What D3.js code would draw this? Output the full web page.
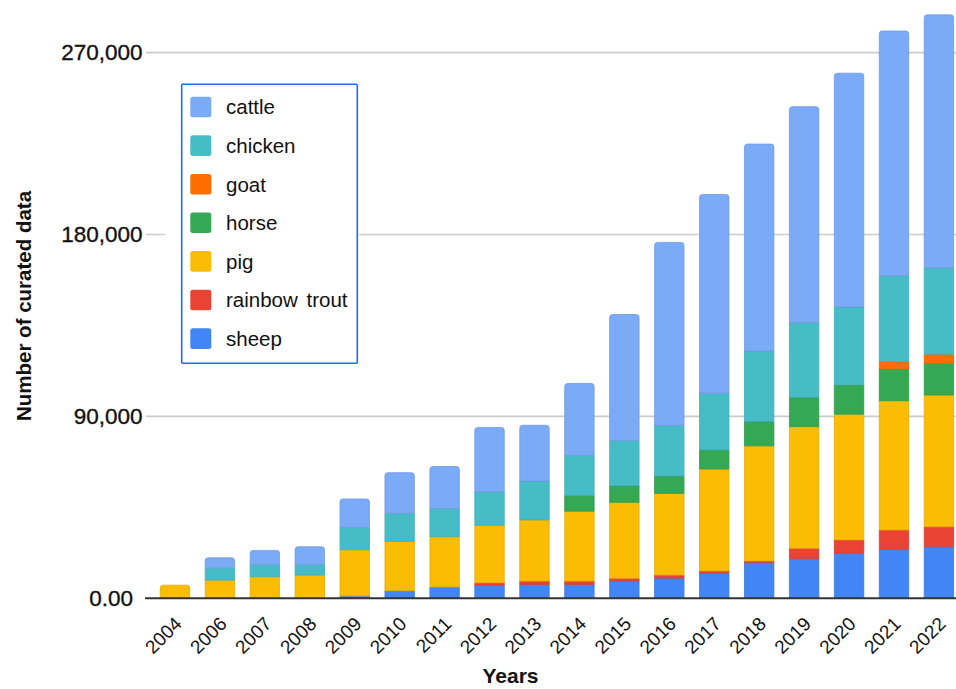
<!DOCTYPE html>
<html>
<head>
<meta charset="utf-8">
<script src="https://cdn.jsdelivr.net/npm/d3@7"></script>
<style>
  html, body { margin: 0; padding: 0; background: #fff; }
  svg { display: block; font-family: "Liberation Sans", Arial, sans-serif; }
</style>
</head>
<body>
<svg id="chart" width="956" height="689"></svg>
<script>
// ---- data ----
const years = ["2004","2006","2007","2008","2009","2010","2011","2012","2013","2014","2015","2016","2017","2018","2019","2020","2021","2022"];
const sheep   = [0, 0, 0, 0, 1150, 3760, 5600, 6500, 6900, 6900, 8600, 10000, 12500, 17800, 19600, 22300, 24300, 25500];
const trout   = [0, 0, 0, 0, 0, 0, 0, 1150, 1600, 1600, 1300, 1500, 1000, 650, 5150, 6600, 9500, 9900];
const pig     = [6500, 9000, 10700, 11500, 22900, 24400, 24900, 28500, 30300, 34600, 37600, 40400, 50500, 57000, 60200, 62200, 64000, 65200];
const horse   = [0, 0, 0, 0, 0, 0, 0, 0, 0, 7800, 8200, 8600, 9400, 12100, 14500, 14500, 15700, 15700];
const goat    = [0, 0, 0, 0, 0, 0, 0, 0, 0, 0, 0, 0, 0, 0, 0, 0, 3600, 4500];
const chicken = [0, 6100, 5900, 5100, 11100, 13900, 13900, 16500, 19200, 19800, 22300, 25100, 28100, 34800, 36900, 38600, 42500, 42700];
const cattle  = [0, 4950, 7100, 8900, 14000, 20100, 20800, 31900, 27600, 35600, 62400, 90500, 98300, 102400, 106900, 115600, 121100, 125200];
const yTicks = [0, 90000, 180000, 270000];
const yTickLabels = ["0.00", "90,000", "180,000", "270,000"];

// stack order bottom -> top
const seriesNames = ["sheep", "rainbow trout", "pig", "horse", "goat", "chicken", "cattle"];
const seriesValues = [sheep, trout, pig, horse, goat, chicken, cattle];
const colors = {
  "cattle": "#7baaf7", "chicken": "#46bdc6", "goat": "#ff6d01", "horse": "#34a853",
  "pig": "#fbbc04", "rainbow trout": "#ea4335", "sheep": "#4285f4"
};
const legendOrder = ["cattle", "chicken", "goat", "horse", "pig", "rainbow trout", "sheep"];

const table = years.map((y, i) => {
  const row = { year: y };
  seriesNames.forEach((s, k) => row[s] = seriesValues[k][i]);
  return row;
});

// ---- layout ----
const svg = d3.select("#chart");
const x = d3.scaleBand().domain(years).range([152.5, 961.4]).paddingInner(0.345).paddingOuter(0.1725);
const y = d3.scaleLinear().domain([0, 270000]).range([598.3, 52.6]);

// gridlines
svg.append("g").selectAll("line").data(yTicks.slice(1)).join("line")
  .attr("x1", 146).attr("x2", 956)
  .attr("y1", d => y(d)).attr("y2", d => y(d))
  .attr("stroke", "#cccccc").attr("stroke-width", 1.6);

// y tick labels
svg.append("g").selectAll("text").data(yTicks).join("text")
  .attr("x", (d, i) => i === 0 ? 133 : 142.5)
  .attr("y", d => y(d))
  .attr("dy", "0.35em")
  .attr("text-anchor", "end")
  .attr("font-size", 22.5)
  .attr("fill", "#111")
  .attr("stroke", "#111").attr("stroke-width", 0.35)
  .text((d, i) => yTickLabels[i]);

// stacked bars
const stack = d3.stack().keys(seriesNames);
const stacked = stack(table);
const r = 3;
function segPath(x0, w, yTop, yBot, rounded) {
  if (!rounded || yBot - yTop < r) {
    return `M${x0},${yBot}V${yTop}H${x0 + w}V${yBot}Z`;
  }
  return `M${x0},${yBot}V${yTop + r}Q${x0},${yTop} ${x0 + r},${yTop}H${x0 + w - r}Q${x0 + w},${yTop} ${x0 + w},${yTop + r}V${yBot}Z`;
}
const topKey = years.map((yr, i) => {
  let k = -1;
  seriesValues.forEach((arr, j) => { if (arr[i] > 0) k = j; });
  return k;
});
const bars = svg.append("g");
stacked.forEach((layer, j) => {
  const name = layer.key;
  bars.append("g").selectAll("path").data(layer).join("path")
    .filter(d => d[1] - d[0] > 0)
    .attr("d", (d, i) => {
      const idx = years.indexOf(d.data.year);
      return segPath(x(d.data.year), x.bandwidth(), y(d[1]), y(d[0]), topKey[idx] === j);
    })
    .attr("fill", colors[name])
    .attr("stroke", d3.color(colors[name]).darker(0.25))
    .attr("stroke-width", 0.8);
});

// baseline
svg.append("line").attr("x1", 145).attr("x2", 956)
  .attr("y1", y(0)).attr("y2", y(0))
  .attr("stroke", "#333").attr("stroke-width", 2);

// x labels
svg.append("g").selectAll("text").data(years).join("text")
  .attr("transform", d => `translate(${x(d) + x.bandwidth() / 2 + 8},625) rotate(-45)`)
  .attr("text-anchor", "end")
  .attr("font-size", 19)
  .attr("fill", "#111")
  .text(d => d);

// axis titles
svg.append("text")
  .attr("transform", "translate(31,306) rotate(-90)")
  .attr("text-anchor", "middle")
  .attr("font-size", 20.5).attr("font-weight", "bold").attr("fill", "#111")
  .text("Number of curated data");
svg.append("text")
  .attr("x", 510.5).attr("y", 683)
  .attr("text-anchor", "middle")
  .attr("font-size", 21).attr("font-weight", "bold").attr("fill", "#111")
  .text("Years");

// legend
const lg = svg.append("g");
lg.append("rect").attr("x", 165).attr("y", 78).attr("width", 194).attr("height", 292).attr("fill", "#fff");
lg.append("rect").attr("x", 181.7).attr("y", 84.3).attr("width", 175.6).attr("height", 279)
  .attr("fill", "#fff").attr("stroke", "#1a6ee8").attr("stroke-width", 1.6).attr("rx", 1);
const items = lg.selectAll("g.item").data(legendOrder).join("g")
  .attr("transform", (d, i) => `translate(0,${107 + i * 38.6})`);
items.append("rect").attr("x", 190.3).attr("y", -10.3).attr("width", 21).attr("height", 20.6).attr("rx", 2.5)
  .attr("fill", d => colors[d]);
items.append("text").attr("x", 226).attr("y", 0).attr("dy", "0.36em")
  .attr("font-size", 20.5).attr("fill", "#111")
  .attr("word-spacing", 3)
  .text(d => d);
</script>
</body>
</html>
